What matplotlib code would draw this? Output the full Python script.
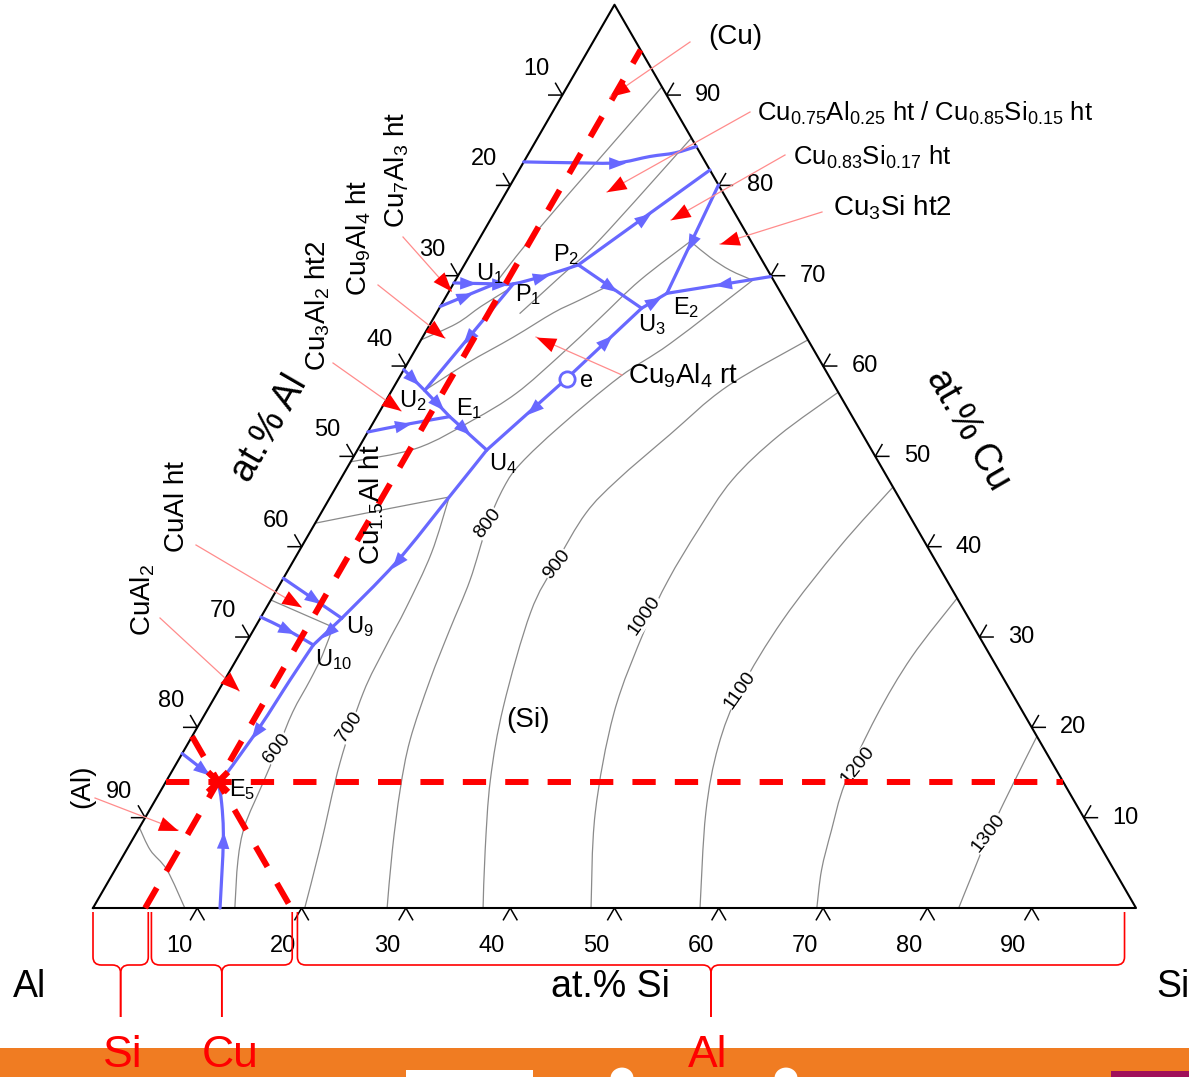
import numpy as np
import matplotlib.pyplot as plt
from matplotlib.markers import MarkerStyle
from matplotlib.transforms import Affine2D
from matplotlib.path import Path
from matplotlib.patches import PathPatch, Rectangle, Ellipse

plt.rcParams['font.family'] = ['Liberation Sans', 'DejaVu Sans']
plt.rcParams['mathtext.default'] = 'regular'

# ---- data: every point is a composition (at.% Si, at.% Cu), Al = rest ----
ticks = [10, 20, 30, 40, 50, 60, 70, 80, 90]

# univariant lines, listed in the direction of falling temperature
uA = [(0, 82.6), (5, 82.5), (9, 82.5), (11.8, 83.2), (14, 83.6), (15.7, 84.3)]
uB = [(10.93, 71.2), (18.3, 81.7)]
uC = [(19.95, 80.05), (21.0, 68.05)]
uD = [(30.0, 69.9), (21.0, 68.05)]
uE = [(16.1, 58.6), (19.4, 66.4), (21.0, 68.05)]
uE4 = [(16.1, 58.6), (12.4, 50.7)]
uF = [(10.93, 71.2), (19.4, 66.4)]
uG = [(0, 69.2), (4.0, 69.1), (5.75, 69.1), (8.57, 70.1), (10.93, 71.2)]
uH = [(0, 66.6), (1.9, 67.8), (4.0, 69.1)]
uI = [(5.75, 69.1), (3.15, 57.3)]
uJ = [(0, 59.6), (3.15, 57.3), (7.0, 54.4), (12.4, 50.7)]
uK = [(0, 52.7), (3.5, 53.6), (7.0, 54.4)]
uL = [(12.4, 50.7), (11.4, 45.5), (9.95, 38.3), (7.81, 32.08)]
uM = [(0, 36.5), (7.81, 32.08)]
uN = [(7.81, 32.08), (6.56, 29.12)]
uO = [(0, 32.2), (3.2, 30.8), (6.56, 29.12)]
uP = [(6.56, 29.12), (6.27, 25.24), (5.97, 20.07), (5.36, 14.9), (5.0, 14.0)]
uQ = [(0, 17.1), (5.0, 14.0)]
uR = [(12.18, 0), (8.73, 7.53), (6.54, 11.59), (5.0, 14.0)]

blue_lines = [uA, uB, uC, uD, uE, uE4, uF, uG, uH, uI, uJ, uK, uL, uM, uN, uO, uP, uQ, uR]
blue_smooth = [True, False, False, False, False, False, False, True, True, False, False, True, True,
               False, False, True, True, False, True]
blue_arrows = [[(9, 82.5)], [(14.5, 76.5)], [(20.6, 73.6)], [(26.0, 68.8)],
               [(17.9, 62.7), (20.2, 67.2)], [(14.55, 55.3)], [(15.2, 68.8)],
               [(1.45, 69.05), (4.5, 69.1), (8.0, 69.9)], [(1.97, 67.6)], [(4.54, 63.0)],
               [(1.38, 58.6), (5.17, 55.9), (9.04, 52.9)], [(3.11, 53.3)], [(9.95, 38.3)],
               [(4.07, 34.1)], [(7.2, 30.6)], [(3.18, 30.8)], [(5.9, 19.5)], [(2.94, 15.2)],
               [(8.73, 7.53)]]

# liquidus isotherms and other boundaries (grey)
iso600 = [(13.6, 0), (11.25, 5.3), (10.0, 9.1), (9.4, 13.6), (8.9, 17.5), (8.3, 21.7), (8.2, 25.2), (8.0, 28.0), (7.45, 31.1)]
iso700 = [(20.3, 0), (18.4, 6.8), (15.65, 16.05), (14.0, 23.8), (13.6, 28.9), (13.4, 33.3), (12.8, 39.3), (11.4, 45.5)]
iso800 = [(28.2, 0), (25.5, 6.4), (22.9, 13.1), (21.1, 18.6), (19.7, 25.2), (18.8, 30.8), (18.0, 36.3),
          (16.6, 42.4), (16.1, 46.6), (16.4, 49.2), (18.1, 53.3), (21.1, 58.8), (24.1, 62.5), (28.5, 69.5)]
iso900 = [(37.4, 0), (34.4, 6.4), (31.0, 14.2), (28.2, 22.3), (25.6, 32.7), (25.3, 38.2), (25.4, 43.7),
          (26.6, 47.4), (29.1, 52.4), (31.9, 57.7), (37.1, 62.9)]
iso1000 = [(47.75, 0), (42.9, 10.5), (39.15, 21.6), (37.5, 30.8), (37.0, 36.3), (37.1, 41.9), (37.6, 47.4), (39.6, 52.3), (42.9, 57.1)]
iso1100 = [(58.2, 0), (53.5, 10.5), (51.0, 17.9), (50.0, 24.1), (50.2, 31.9), (51.6, 40.0), (53.4, 46.6)]
iso1200 = [(69.4, 0), (67.75, 4.2), (66.5, 8.6), (65.2, 13.8), (64.5, 21.2), (64.6, 27.8), (65.7, 34.3)]
iso1300 = [(83.0, 0), (82.4, 4.0), (81.8, 8.3), (81.4, 13.0), (81.0, 19.0)]
g_al = [(0, 8.9), (2.3, 6.4), (5.0, 4.2), (8.8, 0)]
gE = [(0, 34.1), (7.45, 31.1)]
gD = [(0, 42.6), (5.8, 44.1), (11.4, 45.5)]
gC = [(0, 49.4), (5.6, 50.9), (9.4, 54.0), (12.1, 57.0), (14.2, 61.2), (15.95, 65.3), (17.7, 69.5), (20.5, 74.0)]
gB = [(3.15, 57.3), (5.7, 60.3), (8.7, 63.2), (11.2, 65.9), (13.0, 67.3), (15.0, 68.9)]
gA = [(0, 62.9), (2.5, 64.7), (3.9, 66.6), (5.5, 68.4)]
g1 = [(9.1, 90.9), (5.2, 75.4), (4.0, 69.1)]
g2 = [(14.75, 85.25), (11.6, 74.0), (9.85, 69.9), (8.0, 65.8)]
g_cu3si = [(20.7, 73.6), (23.2, 72.0), (25.8, 70.6), (28.5, 69.5)]
grey_lines = [iso600, iso700, iso800, iso900, iso1000, iso1100, iso1200, iso1300,
              g_al, gE, gD, gC, gB, gA, g1, g2, g_cu3si]

iso_labels = ['600', '700', '800', '900', '1000', '1100', '1200', '1300']
iso_label_at = [(8.8, 17.7), (14.6, 20.0), (16.5, 42.6), (25.5, 38.0), (36.7, 32.4), (50.0, 24.1), (65.4, 15.8), (81.7, 8.3)]

# invariant points
inv_names = ['U$_1$', 'P$_1$', 'P$_2$', 'U$_2$', 'E$_1$', 'U$_3$', 'E$_2$', 'U$_4$', 'e', 'U$_9$', 'U$_{10}$', 'E$_5$']
e_point = (16.1, 58.6)
E5 = (5.0, 14.0)

# red guide lines through E5 (Si 5, Cu 14, Al 81)
dash_si = [(5, 0), (5, 95)]
dash_cu = [(0, 14), (86, 14)]
dash_al = [(0, 19), (19, 0)]
brace_spans = [(0, 5.3), (5.6, 19.1), (19.6, 98.9)]
brace_names = ['Si', 'Cu', 'Al']

S3 = np.sqrt(3) / 2


def tern(pts):
    a = np.asarray(pts, float)
    return a[:, 0] + a[:, 1] / 2, a[:, 1] * S3


def pt(si, cu):
    return si + cu / 2, cu * S3


def px(x, y):
    # layout helper: position in the reference picture -> plot units
    return (x - 93) / 10.43, (908 - y) / 10.43


def smooth_path(X, Y):
    # cubic Bezier through the read points (Catmull-Rom tangents)
    P = np.column_stack([X, Y])
    n = len(P)
    verts, codes = [P[0]], [Path.MOVETO]
    for i in range(n - 1):
        p0 = P[i - 1] if i > 0 else P[i]
        p3 = P[i + 2] if i + 2 < n else P[i + 1]
        c1 = P[i] + (P[i + 1] - p0) / 6
        c2 = P[i + 1] - (p3 - P[i]) / 6
        verts += [c1, c2, P[i + 1]]
        codes += [Path.CURVE4] * 3
    return Path(verts, codes)


fig = plt.figure(figsize=(11.89, 10.77), dpi=100)
ax = fig.add_axes([0, 0, 1, 1])
xa, yb = px(0, 0)
xb, ya = px(1189, 1077)
ax.set_xlim(xa, xb)
ax.set_ylim(ya, yb)
ax.axis('off')

HEAD = [(1, 0), (-1, 0.75), (-1, -0.75), (1, 0)]


def head(x, y, ang, color, ms, z=6):
    m = MarkerStyle(HEAD, transform=Affine2D().rotate_deg(ang))
    ax.plot([x], [y], marker=m, ms=ms, color=color, mec='none', ls='none', zorder=z)


# triangle and ticks
ax.plot(*tern([(0, 0), (100, 0), (0, 100), (0, 0)]), color='black', lw=1.5, zorder=3)
L = 1.3
for t in ticks:
    x, y = pt(0, 100 - t)          # at.% Al on left edge
    ax.plot([x - L, x, x - L / 2], [y, y, y + L * S3], color='black', lw=1.1, zorder=3)
    ax.text(x - 2.5, y + 2.5, str(t), fontsize=17, ha='center', va='center')
    x, y = pt(t, 0)                # at.% Si on bottom edge
    ax.plot([x - L / 2, x, x + L / 2], [-L * S3, 0, -L * S3], color='black', lw=1.1, zorder=3)
    ax.text(x - 1.75, -3.65, str(t), fontsize=17, ha='center', va='center')
    x, y = pt(100 - t, t)          # at.% Cu on right edge
    ax.plot([x + L, x, x + L / 2], [y, y, y + L * S3], color='black', lw=1.1, zorder=3)
    ax.text(x + 4.0, y, str(t), fontsize=17, ha='center', va='center')

# grey isotherms / boundaries
for g in grey_lines:
    ax.add_patch(PathPatch(smooth_path(*tern(g)), fill=False, ec='#8a8a8a', lw=0.9, zorder=2))
iso_rot = [51, 56, 52, 51, 55, 55, 51, 52]
for lab, (si, cu), r in zip(iso_labels, iso_label_at, iso_rot):
    ax.text(*pt(si, cu), lab, fontsize=14, rotation=r, ha='center', va='center', zorder=2.5,
            bbox=dict(fc='white', ec='none', pad=0.2))

# blue univariant lines with flow arrows
BLUE = '#6868ff'
for line, sm, arrs in zip(blue_lines, blue_smooth, blue_arrows):
    X, Y = tern(line)
    if sm:
        ax.add_patch(PathPatch(smooth_path(X, Y), fill=False, ec=BLUE, lw=2.3, zorder=4, capstyle='round'))
    else:
        ax.plot(X, Y, color=BLUE, lw=2.3, zorder=4, solid_capstyle='round')
    for si, cu in arrs:
        qx0, qy0 = pt(si, cu)
        best = None
        for i in range(len(X) - 1):
            dx, dy = X[i + 1] - X[i], Y[i + 1] - Y[i]
            t = np.clip(((qx0 - X[i]) * dx + (qy0 - Y[i]) * dy) / (dx * dx + dy * dy), 0, 1)
            qx, qy = X[i] + t * dx, Y[i] + t * dy
            d = (qx - qx0) ** 2 + (qy - qy0) ** 2
            if best is None or d < best[0]:
                best = (d, qx, qy, np.degrees(np.arctan2(dy, dx)))
        head(best[1], best[2], best[3], BLUE, 12, z=4.5)

ax.plot(*pt(*e_point), marker='o', ms=11, mfc='white', mec=BLUE, mew=2, zorder=5)

# red dashed guide lines and E5 cross
for d in (dash_si, dash_cu, dash_al):
    ax.plot(*tern(d), color='red', lw=4.3, dashes=(3.9, 3.2), zorder=5)
ax.plot(*pt(*E5), marker='x', ms=15, mew=4.5, color='red', zorder=6)

# invariant point labels (layout positions)
inv_pos = [(490, 274), (528, 295), (566, 255), (413, 401), (469, 409), (652, 325),
           (686, 308), (503, 464), (587, 381), (360, 627), (334, 660), (242, 790)]
for name, p in zip(inv_names, inv_pos):
    ax.text(*px(*p), name, fontsize=17, ha='center', va='center', zorder=7)

# phase-field labels with leaders
leaders = [((690, 42), (610, 97)), ((750, 112), (607, 192)), ((785, 155), (671, 220)),
           ((822, 212), (720, 244)), ((622, 375), (536, 337)), ((403, 237), (451, 291)),
           ((378, 285), (445, 338)), ((333, 363), (401, 411)), ((196, 545), (301, 607)),
           ((160, 618), (239, 691)), ((95, 798), (178, 830))]
for tail, tip in leaders:
    (x1, y1), (x2, y2) = px(*tail), px(*tip)
    ax.plot([x1, x2], [y1, y2], color='#ff8c8c', lw=0.9, zorder=5)
    ang = np.arctan2(y2 - y1, x2 - x1)
    back = 0.5 * 14 * (100 / 72) / 10.43
    head(x2 - back * np.cos(ang), y2 - back * np.sin(ang), np.degrees(ang), 'red', 14)

ax.text(*px(735, 37), '(Cu)', fontsize=20, ha='center', va='center')
ax.text(*px(757, 113), 'Cu$_{0.75}$Al$_{0.25}$ ht / Cu$_{0.85}$Si$_{0.15}$ ht', fontsize=18.5, ha='left', va='center')
ax.text(*px(793, 157), 'Cu$_{0.83}$Si$_{0.17}$ ht', fontsize=18.5, ha='left', va='center')
ax.text(*px(833, 208), 'Cu$_3$Si ht2', fontsize=20, ha='left', va='center')
ax.text(*px(628, 376), 'Cu$_9$Al$_4$ rt', fontsize=20, ha='left', va='center')
ax.text(*px(528, 720), '(Si)', fontsize=20, ha='center', va='center')
vert_labels = [('Cu$_7$Al$_3$ ht', (397, 170)), ('Cu$_9$Al$_4$ ht', (359, 238)),
               ('Cu$_3$Al$_2$ ht2', (318, 306)), ('CuAl ht', (177, 507)), ('CuAl$_2$', (143, 600)),
               ('(Al)', (82, 786)), ('Cu$_{1.5}$Al ht', (372, 505))]
for txt, p in vert_labels:
    ax.text(*px(*p), txt, fontsize=20, rotation=90, ha='center', va='center', zorder=7)

# axis titles and corners
ax.text(*px(270, 428), 'at.% Al', fontsize=27, rotation=60, ha='center', va='center')
ax.text(*px(968, 430), 'at.% Cu', fontsize=27, rotation=-60, ha='center', va='center')
ax.text(*px(610, 987), 'at.% Si', fontsize=27, ha='center', va='center')
ax.text(*px(30, 987), 'Al', fontsize=27, ha='center', va='center')
ax.text(*px(1173, 987), 'Si', fontsize=27, ha='center', va='center')

# braces below the Si axis
_, yt = px(0, 912)
_, yk = px(0, 957)
_, yh = px(0, 965)
_, yc = px(0, 973)
_, ye = px(0, 1017)
r = 0.8
for s0, s1 in brace_spans:
    xm = (s0 + s1) / 2
    for xe, sg in ((s0, 1), (s1, -1)):
        verts = [(xe, yt), (xe, yk), (xe, yh), (xe + sg * r, yh), (xm - sg * r, yh), (xm, yh), (xm, yc), (xm, ye)]
        codes = [Path.MOVETO, Path.LINETO, Path.CURVE3, Path.CURVE3, Path.LINETO, Path.CURVE3, Path.CURVE3, Path.LINETO]
        ax.add_patch(PathPatch(Path(verts, codes), fill=False, ec='red', lw=1.2, zorder=5))

# orange footer band
bx, by = px(0, 1077)
bx2, by2 = px(1189, 1048)
ax.add_patch(Rectangle((bx, by), bx2 - bx, by2 - by, fc='#f07c22', ec='none', zorder=1))
wx, wy = px(406, 1077)
wx2, wy2 = px(533, 1070)
ax.add_patch(Rectangle((wx, wy), wx2 - wx, wy2 - wy, fc='white', ec='none', zorder=1.2))
for cx in (622, 786):
    ex, ey = px(cx, 1078)
    ax.add_patch(Ellipse((ex, ey), 2.2, 2.0, fc='white', ec='none', zorder=1.2))
mx, my = px(1111, 1077)
mx2, my2 = px(1189, 1071)
ax.add_patch(Rectangle((mx, my), mx2 - mx, my2 - my, fc='#a0105a', ec='none', zorder=1.2))
name_x = [123, 230, 708]
for name, nx in zip(brace_names, name_x):
    ax.text(*px(nx, 1076), name, color='red', fontsize=32, ha='center', va='bottom', zorder=8)

fig.savefig('out.png', dpi=100)
